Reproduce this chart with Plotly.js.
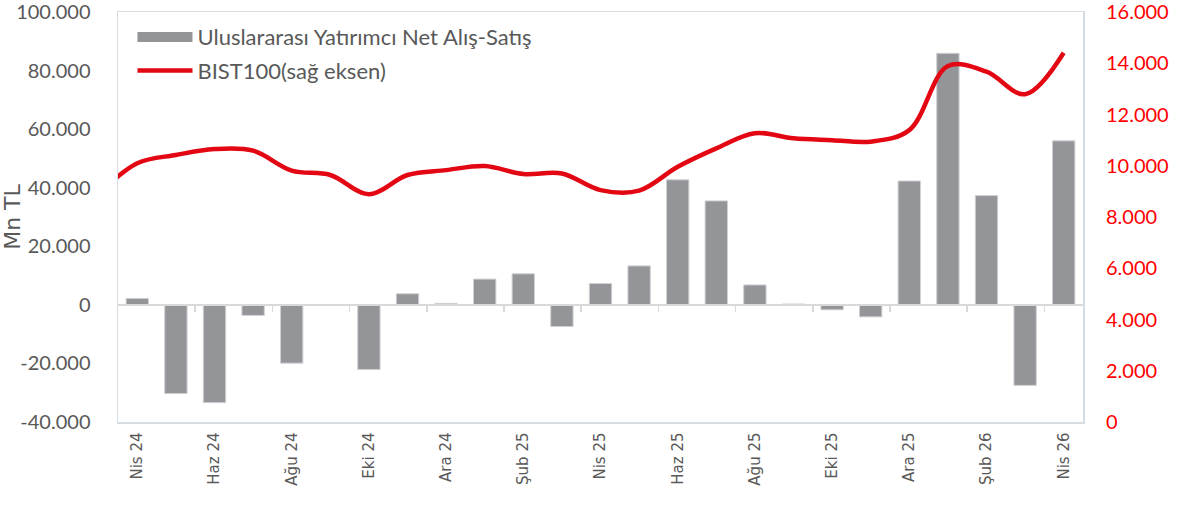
<!DOCTYPE html>
<html><head><meta charset="utf-8">
<script src="https://cdn.plot.ly/plotly-3.0.1.min.js"></script>
<style>html,body{margin:0;padding:0;background:#fff}#chart{width:1200px;height:510px}</style>
</head><body><div id="chart"></div>
<script>
const categories = ["Nis 24","May 24","Haz 24","Tem 24","Ağu 24","Eyl 24","Eki 24","Kas 24","Ara 24","Oca 25","Şub 25","Mar 25","Nis 25","May 25","Haz 25","Tem 25","Ağu 25","Eyl 25","Eki 25","Kas 25","Ara 25","Oca 26","Şub 26","Mar 26","Nis 26"];
const netFlows = [2200,-30300,-33400,-3600,-19900,0,-22100,3800,500,8800,10600,-7400,7300,13300,42700,35500,6800,300,-1700,-4100,42300,85900,37300,-27500,56000];
const bistPrevMonth = 8900; // Mar 24, just left of the plotted range
const bist100 = [10100,10420,10650,10590,9810,9640,8890,9640,9830,9990,9680,9700,9050,9030,9960,10680,11270,11070,11000,10940,11390,13890,13670,12790,14410];
const xTickLabels = ["Nis 24","Haz 24","Ağu 24","Eki 24","Ara 24","Şub 25","Nis 25","Haz 25","Ağu 25","Eki 25","Ara 25","Şub 26","Nis 26"];
const leftTickVals = [-40000,-20000,0,20000,40000,60000,80000,100000];
const leftTickText = ["-40.000","-20.000","0","20.000","40.000","60.000","80.000","100.000"];
const rightTickVals = [0,2000,4000,6000,8000,10000,12000,14000,16000];
const rightTickText = ["0","2.000","4.000","6.000","8.000","10.000","12.000","14.000","16.000"];
const seriesNames = ["Uluslararası Yatırımcı Net Alış-Satış","BIST100(sağ eksen)"];
const yTitle = "Mn TL";

const idx = categories.map((_, i) => i);
const tickIdx = idx.filter(i => i % 2 === 0);
const boundaryTicks = idx.filter(i => i % 2 === 1).map(i => i + 0.5);
const leftMin = leftTickVals[0], leftMax = leftTickVals[leftTickVals.length - 1];
const zeroPos = (0 - leftMin) / (leftMax - leftMin);

const grey = '#595959';
const barGrey = '#939598';
const borderCol = '#d6dde2';

const traces = [
  {
    type: 'bar', name: seriesNames[0], x: idx, y: netFlows,
    marker: {color: barGrey, line: {color: '#cfd1d3', width: 1}},
    xaxis: 'x', yaxis: 'y', legendgroup: 'a', showlegend: false, hoverinfo: 'y'
  },
  {
    // legend key for the bar series (wide swatch as in the original)
    type: 'scatter', mode: 'lines', name: seriesNames[0], x: [null], y: [null],
    line: {color: barGrey, width: 13},
    xaxis: 'x', yaxis: 'y', legendgroup: 'a', hoverinfo: 'skip'
  },
  {
    type: 'scatter', mode: 'lines', name: seriesNames[1],
    x: [-1].concat(idx), y: [bistPrevMonth].concat(bist100),
    line: {color: '#e30613', width: 4.5, shape: 'spline'},
    xaxis: 'x', yaxis: 'y2', legendgroup: 'b', hoverinfo: 'y'
  },
  {
    type: 'scatter', mode: 'none', x: idx, y: netFlows, xaxis: 'x2', yaxis: 'y',
    showlegend: false, hoverinfo: 'skip'
  }
];

const layout = {
  width: 1200, height: 510,
  margin: {l: 118, r: 117, t: 12, b: 88},
  paper_bgcolor: '#fff', plot_bgcolor: '#fff',
  font: {family: 'Lato, sans-serif', color: grey},
  bargap: 0.42,
  showlegend: true,
  legend: {
    x: 0.015, y: 0.99, xanchor: 'left', yanchor: 'top',
    bgcolor: 'rgba(0,0,0,0)', font: {size: 22, color: grey, family: 'Lato, sans-serif'},
    itemwidth: 55, traceorder: 'grouped', tracegroupgap: 2
  },
  xaxis: {
    type: 'linear', range: [-0.5, categories.length - 0.5],
    tickvals: tickIdx, ticktext: xTickLabels, tickangle: -90,
    tickfont: {family: 'DejaVu Sans, sans-serif', size: 15, color: grey},
    ticks: '', ticklabelstandoff: 3,
    showgrid: false, zeroline: false,
    showline: true, linecolor: borderCol, linewidth: 1.5, mirror: true
  },
  xaxis2: {
    type: 'linear', overlaying: 'x', anchor: 'free', position: zeroPos,
    range: [-0.5, categories.length - 0.5],
    tickvals: boundaryTicks, ticks: 'outside', ticklen: 6, tickwidth: 1.5, tickcolor: '#d9d9d9',
    showticklabels: false, showgrid: false, zeroline: false,
    showline: true, linecolor: '#d9d9d9', linewidth: 2
  },
  yaxis: {
    range: [leftMin, leftMax], tickvals: leftTickVals, ticktext: leftTickText,
    tickfont: {size: 20, color: grey}, ticks: '', ticklabelstandoff: 22,
    ticklabeloverflow: 'allow',
    showgrid: false, zeroline: false,
    showline: true, linecolor: borderCol, linewidth: 1.5, mirror: true,
    title: {text: yTitle, font: {size: 22, color: grey, family: 'DejaVu Sans, sans-serif'}, standoff: 0}
  },
  yaxis2: {
    overlaying: 'y', side: 'right', anchor: 'x',
    range: [rightTickVals[0], rightTickVals[rightTickVals.length - 1]],
    tickvals: rightTickVals, ticktext: rightTickText,
    tickfont: {size: 20, color: '#ff0000'}, ticks: '', ticklabelstandoff: 22,
    ticklabeloverflow: 'allow',
    showgrid: false, zeroline: false, showline: false
  }
};

Plotly.newPlot('chart', traces, layout, {staticPlot: true});
</script>
</body></html>
